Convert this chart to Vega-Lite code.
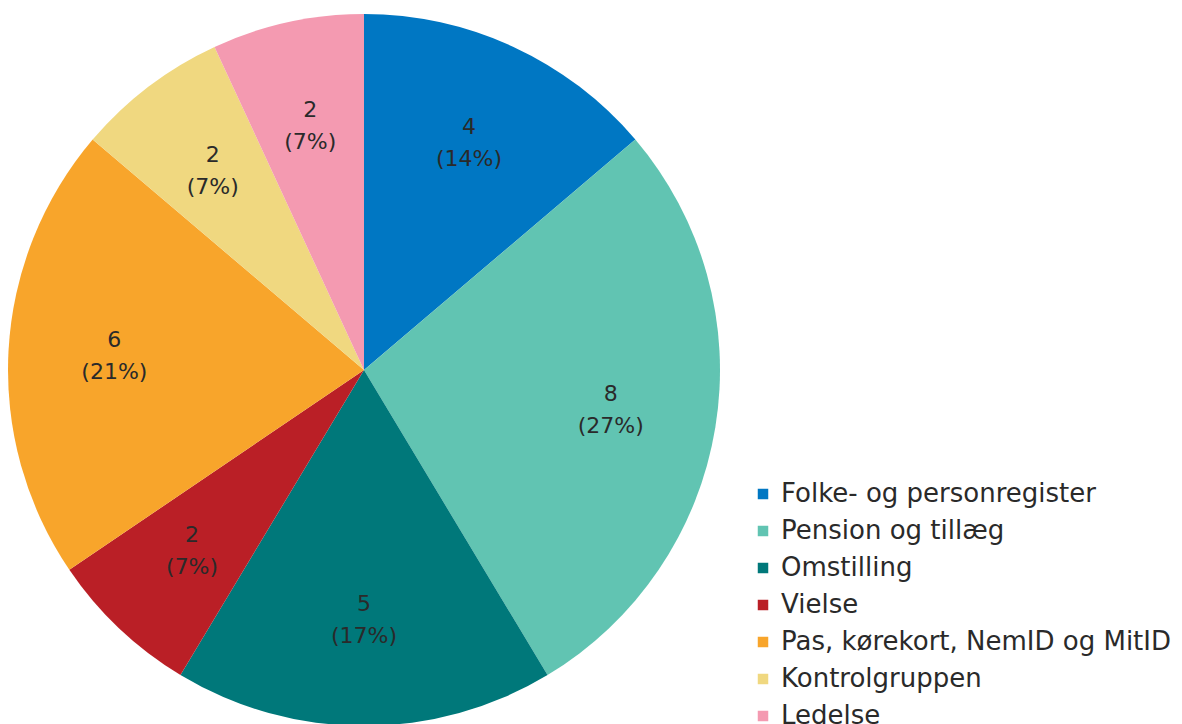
{
  "$schema": "https://vega.github.io/schema/vega-lite/v6.json",
  "width": 728,
  "height": 740,
  "padding": 0,
  "background": "white",
  "config": {"view": {"stroke": null}, "font": "DejaVu Sans"},
  "data": {"values": [
    {"idx": 1, "kategori": "Folke- og personregister", "antal": 4, "label": "4\n(14%)"},
    {"idx": 2, "kategori": "Pension og tillæg", "antal": 8, "label": "8\n(27%)"},
    {"idx": 3, "kategori": "Omstilling", "antal": 5, "label": "5\n(17%)"},
    {"idx": 4, "kategori": "Vielse", "antal": 2, "label": "2\n(7%)"},
    {"idx": 5, "kategori": "Pas, kørekort, NemID og MitID", "antal": 6, "label": "6\n(21%)"},
    {"idx": 6, "kategori": "Kontrolgruppen", "antal": 2, "label": "2\n(7%)"},
    {"idx": 7, "kategori": "Ledelse", "antal": 2, "label": "2\n(7%)"}
  ]},
  "encoding": {
    "theta": {"field": "antal", "type": "quantitative", "stack": true},
    "order": {"field": "idx", "type": "quantitative"}
  },
  "layer": [
    {
      "mark": {"type": "arc", "outerRadius": 356},
      "encoding": {
        "color": {
          "field": "kategori", "type": "nominal",
          "sort": ["Folke- og personregister", "Pension og tillæg", "Omstilling", "Vielse", "Pas, kørekort, NemID og MitID", "Kontrolgruppen", "Ledelse"],
          "scale": {
            "domain": ["Folke- og personregister", "Pension og tillæg", "Omstilling", "Vielse", "Pas, kørekort, NemID og MitID", "Kontrolgruppen", "Ledelse"],
            "range": ["#0077C3", "#61C4B2", "#00787A", "#BA1F26", "#F8A52B", "#F0D880", "#F49AB1"]
          },
          "legend": {
            "title": null,
            "orient": "none",
            "legendX": 750,
            "legendY": 481,
            "symbolType": "square",
            "symbolSize": 110,
            "symbolStrokeWidth": 0,
            "labelFontSize": 26,
            "labelColor": "#2a2a2a",
            "labelFont": "DejaVu Sans",
            "labelLimit": 500,
            "labelOffset": 5,
            "rowPadding": 11
          }
        }
      }
    },
    {
      "mark": {"type": "text", "radius": 250, "fontSize": 22, "color": "#2a2a2a", "lineBreak": "\n", "align": "center", "baseline": "middle", "lineHeight": 32, "dy": -16},
      "encoding": {"text": {"field": "label", "type": "nominal"}}
    }
  ]
}
